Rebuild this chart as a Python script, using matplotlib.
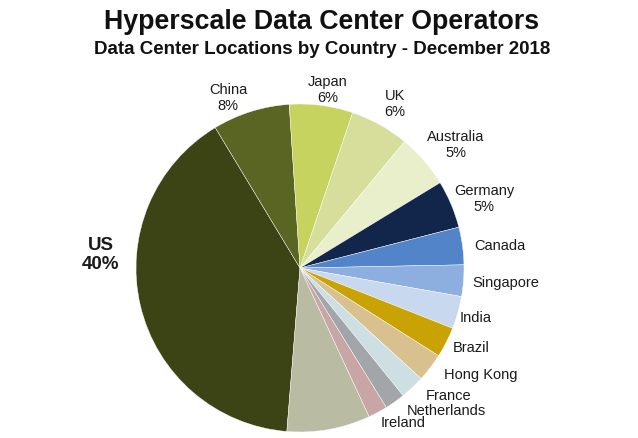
import matplotlib.pyplot as plt
import numpy as np

plt.rcParams['font.family'] = ['Liberation Sans', 'DejaVu Sans']

# data (share of hyperscale data centers)
countries = ['US', 'China', 'Japan', 'UK', 'Australia', 'Germany', 'Canada',
             'Singapore', 'India', 'Brazil', 'Hong Kong', 'France',
             'Netherlands', 'Ireland', 'Other']
shares = [40.1, 7.6, 6.25, 5.8, 5.3, 4.7, 3.7, 3.1, 3.2, 3.0, 2.8, 2.4,
          2.0, 1.9, 8.2]
pct_labels = ['40%', '8%', '6%', '6%', '5%', '5%', '', '', '', '', '', '',
              '', '', '']
colors = ['#3c4416', '#5a6524', '#c6d35e', '#d7de9c', '#e9eecb', '#12264b',
          '#5184c9', '#8cafe0', '#c8d8ef', '#c9a204', '#d9c08f', '#cddfe2',
          '#a2a5aa', '#c9a6a6', '#b9bca2']

# label anchor points (pixels from top-left of the image)
label_pos = {
    'US': (101, 255), 'China': (228, 98), 'Japan': (328, 90),
    'UK': (395, 104), 'Australia': (456, 145), 'Germany': (484, 199),
    'Canada': (500, 246), 'Singapore': (506, 283), 'India': (476, 318),
    'Brazil': (471, 348), 'Hong Kong': (481, 375), 'France': (449, 396),
    'Netherlands': (446, 411), 'Ireland': (403, 423),
}

W, H = 638, 438
fig = plt.figure(figsize=(W / 100, H / 100), dpi=100)
ax = fig.add_axes([0, 0, 1, 1])
ax.set_xlim(0, W)
ax.set_ylim(0, H)
ax.set_aspect('equal')
ax.axis('off')

ax.pie(shares, colors=colors, startangle=265.4, counterclock=False,
       center=(300, H - 268), radius=164,
       wedgeprops=dict(edgecolor='white', linewidth=0.3))
ax.set_xlim(0, W)
ax.set_ylim(0, H)

for name, pct in zip(countries, pct_labels):
    if name not in label_pos:
        continue
    x, y = label_pos[name]
    text = name if pct == '' else name + '\n' + pct
    if name == 'US':
        ax.text(x, H - y, text, ha='center', va='center', fontsize=13.5,
                fontweight='bold', color='#1a1a1a', linespacing=1.15)
    else:
        ax.text(x, H - y, text, ha='center', va='center', fontsize=10.5,
                color='#1a1a1a', linespacing=1.15)

fig.text(322 / W, 1 - 22 / H, 'Hyperscale Data Center Operators',
         ha='center', va='center', fontsize=19.3, fontweight='bold',
         color='#111111')
fig.text(322 / W, 1 - 50 / H, 'Data Center Locations by Country - December 2018',
         ha='center', va='center', fontsize=13.5, fontweight='bold',
         color='#111111')

fig.savefig('out.png', dpi=100, facecolor='white')
